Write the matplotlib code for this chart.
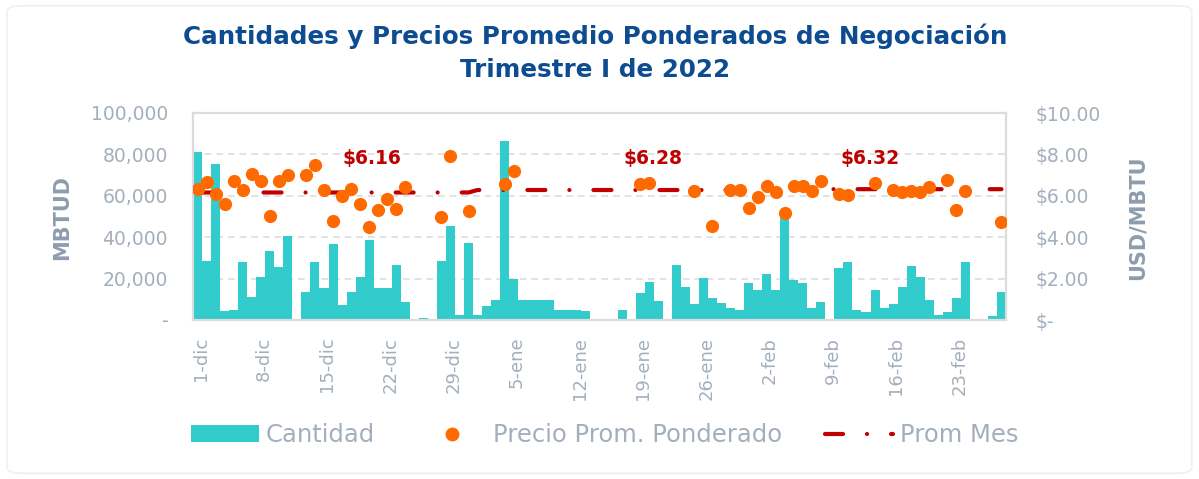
import numpy as np
import matplotlib.pyplot as plt
from matplotlib.patches import Patch, FancyBboxPatch
from matplotlib.lines import Line2D
from matplotlib.ticker import FuncFormatter
from matplotlib.transforms import ScaledTranslation

nan = np.nan

# daily traded quantity (MBTUD), 1-dic-2021 .. 28-feb-2022
cantidad = [
    81000, 28500, 75200, 4500, 4700, 27800, 11000, 20900, 33500, 25400,
    40700, 0, 13500, 28200, 15600, 36900, 7400, 13400, 20900, 38500,
    15300, 15300, 26600, 8500, 0, 800, 0, 28600, 45400, 2400, 37000,
    2400, 6900, 9700, 86300, 19600, 9700, 9700, 9700, 9700, 5000,
    5000, 5000, 4200, 0, 0, 0, 4700, 0, 13200, 18400,
    9200, 0, 26600, 15900, 7700, 20300, 10600, 8400, 5600, 5000, 17900,
    14500, 22200, 14500, 51000, 19500, 17700, 5800, 8700, 0, 25100,
    28000, 4700, 3900, 14300, 5800, 7600, 15800, 26100, 20900, 9500,
    2300, 3700, 10600, 27800, 0, 0, 2100, 13500,
]

# weighted average price (USD/MBTU)
precio = [
    6.31, 6.65, 6.10, 5.60, 6.73, 6.28, 7.04, 6.71, 5.01, 6.70,
    6.99, nan, 7.02, 7.49, 6.26, 4.80, 5.97, 6.31, 5.62, 4.48,
    5.33, 5.83, 5.36, 6.41, nan, nan, nan, 4.99, 7.92, nan, 5.27,
    nan, nan, nan, 6.55, 7.21, nan, nan, nan, nan, nan,
    nan, nan, nan, nan, nan, nan, nan, nan, 6.57, 6.62,
    nan, nan, nan, nan, 6.23, nan, 4.54, nan, 6.28, 6.28, 5.40,
    5.94, 6.49, 6.18, 5.15, 6.46, 6.46, 6.25, 6.73, nan, 6.09,
    6.04, nan, nan, 6.60, nan, 6.28, 6.18, 6.22, 6.18, 6.44,
    nan, 6.76, 5.31, 6.25, nan, nan, nan, 4.72,
]

dias_mes = [31, 31, 28]
prom_mes = [6.16, 6.28, 6.32]
prom_labels = ['$6.16', '$6.28', '$6.32']
prom_label_x = [19.3, 50.4, 74.4]

tick_labels = ['1-dic', '8-dic', '15-dic', '22-dic', '29-dic', '5-ene', '12-ene',
               '19-ene', '26-ene', '2-feb', '9-feb', '16-feb', '23-feb']

C_BAR = '#33CCCC'
C_DOT = '#FF6A00'
C_LINE = '#C00000'
C_TICK = '#A3AFBC'
C_AXT = '#8E9DAE'
C_TITLE = '#0E4C92'

plt.rcParams['font.family'] = ['DejaVu Sans']

x = np.arange(len(cantidad))
prom_diario = np.repeat(prom_mes, dias_mes)

fig = plt.figure(figsize=(11.99, 4.79), dpi=100)
fig.patches.append(FancyBboxPatch((0.006, 0.012), 0.988, 0.976,
                                  boxstyle='round,pad=0,rounding_size=0.012',
                                  transform=fig.transFigure, facecolor='white',
                                  edgecolor='#F0F0F0', lw=1.2, zorder=-5))

ax = fig.add_axes([193 / 1199, 159 / 479, 813 / 1199, 207 / 479])
ax2 = ax.twinx()

ax.bar(x, cantidad, width=1.0, color=C_BAR, zorder=2)
ax.set_ylim(0, 100000)
ax.set_xlim(-0.5, len(x) - 0.5)
ax.set_yticks(range(0, 100001, 20000))
ax.yaxis.set_major_formatter(FuncFormatter(lambda v, p: '-' if v == 0 else f'{v:,.0f}'))
ax.grid(axis='y', color='#DADDE2', ls=(0, (4, 3)), lw=1.2, zorder=0)
ax.set_xticks(x[::7])
ax.set_xticklabels(tick_labels, rotation=90)

ax2.set_ylim(0, 10)
ax2.set_yticks(range(0, 11, 2))
ax2.yaxis.set_major_formatter(FuncFormatter(lambda v, p: '$-' if v == 0 else f'${v:.2f}'))

# monthly average line: long dash + dot
ax2.plot(x, prom_diario, color=C_LINE, lw=3, dash_capstyle='round',
         ls=(0, (4.32, 5.76, 0.01, 5.76)), zorder=3)
ax2.plot(x, precio, 'o', color=C_DOT, ms=9.5, mec='none', zorder=4)

for lx, txt in zip(prom_label_x, prom_labels):
    ax2.text(lx, 7.8, txt, color=C_LINE, fontsize=13.5, fontweight='bold',
             ha='center', va='center')

for a in (ax, ax2):
    for s in a.spines.values():
        s.set_color('#DCDCDC')
        s.set_linewidth(1.5)
    a.tick_params(length=0, labelsize=13.5, labelcolor=C_TICK)
ax.tick_params(axis='y', pad=18)
ax2.tick_params(axis='y', pad=21)
ax.tick_params(axis='x', pad=12, labelsize=13)
shift = ScaledTranslation(3 / 100, 0, fig.dpi_scale_trans)
for lbl in ax.get_xticklabels():
    lbl.set_transform(lbl.get_transform() + shift)
ax2.set_zorder(ax.get_zorder() + 1)
ax2.patch.set_visible(False)

fig.text(62 / 1199, 1 - 218 / 479, 'MBTUD', rotation=90, ha='center', va='center',
         color=C_AXT, fontsize=15, fontweight='bold')
fig.text(1138 / 1199, 1 - 218 / 479, 'USD/MBTU', rotation=90, ha='center', va='center',
         color=C_AXT, fontsize=15, fontweight='bold')

fig.text(0.496, 1 - 36 / 479, 'Cantidades y Precios Promedio Ponderados de Negociación',
         ha='center', va='center', color=C_TITLE, fontsize=17.7, fontweight='bold')
fig.text(0.496, 1 - 70 / 479, 'Trimestre I de 2022',
         ha='center', va='center', color=C_TITLE, fontsize=17.7, fontweight='bold')

handles = [
    Patch(facecolor=C_BAR, edgecolor='none'),
    Line2D([], [], marker='o', ls='none', color=C_DOT, ms=10, mec='none'),
    Line2D([], [], color=C_LINE, lw=3, dash_capstyle='round',
           ls=(0, (4.32, 5.76, 0.01, 5.76))),
]
fig.legend(handles, ['Cantidad', 'Precio Prom. Ponderado', 'Prom Mes'],
           loc='center', bbox_to_anchor=(605 / 1199, 1 - 435 / 479), ncol=3,
           frameon=False, fontsize=17.5, labelcolor=C_TICK, handlelength=2.8,
           handleheight=0.65, handletextpad=0.28, columnspacing=1.77)

fig.savefig('out.png', dpi=100)
